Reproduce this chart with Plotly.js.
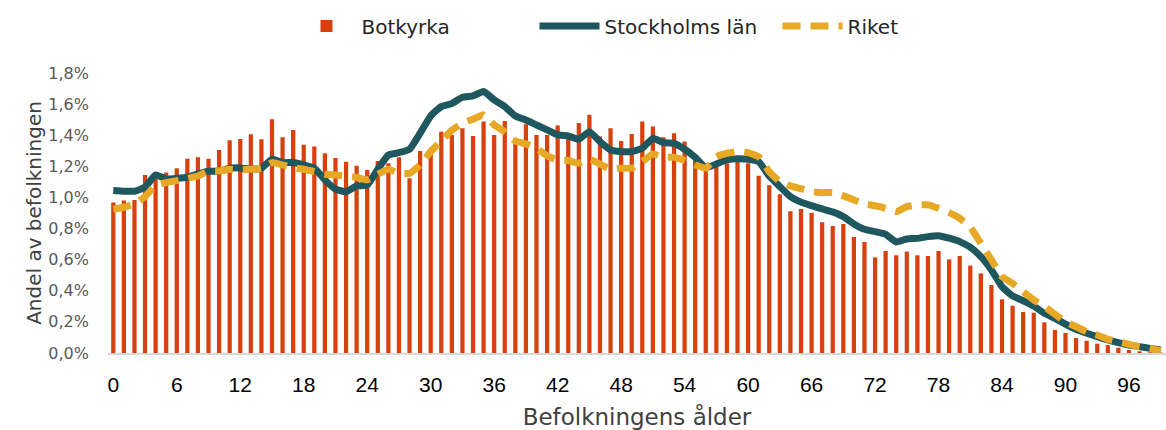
<!DOCTYPE html>
<html>
<head>
<meta charset="utf-8">
<script src="https://cdn.plot.ly/plotly-3.0.1.min.js"></script>
<style>
  html, body { margin: 0; padding: 0; background: #ffffff; }
  #chart { width: 1166px; height: 430px; }
</style>
</head>
<body>
<div id="chart"></div>
<script>
// Ages 0..99
const ages = Array.from({length: 100}, (_, i) => i);

// Share of population (%) per age
const botkyrka = [
  0.967, 0.98, 0.984, 1.145, 1.12, 1.16, 1.188, 1.248, 1.258, 1.248,
  1.305, 1.368, 1.376, 1.406, 1.374, 1.503, 1.387, 1.434, 1.338, 1.327,
  1.284, 1.254, 1.230, 1.203, 1.177, 1.235, 1.22, 1.258, 1.123, 1.299,
  1.30, 1.423, 1.402, 1.445, 1.395, 1.488, 1.402, 1.492, 1.38, 1.47,
  1.402, 1.402, 1.462, 1.38, 1.479, 1.531, 1.391, 1.445, 1.363, 1.408,
  1.488, 1.456, 1.387, 1.413, 1.359, 1.25, 1.177, 1.2, 1.22, 1.23,
  1.22, 1.14, 1.078, 1.02, 0.911, 0.926, 0.902, 0.84, 0.817, 0.83,
  0.746, 0.714, 0.615, 0.656, 0.628, 0.652, 0.628, 0.624, 0.656, 0.602,
  0.624, 0.562, 0.512, 0.437, 0.345, 0.304, 0.264, 0.259, 0.197, 0.148,
  0.129, 0.096, 0.079, 0.06, 0.051, 0.034, 0.019, 0.011, 0.005, 0.003
];

const stockholm = [
  1.044, 1.04, 1.04, 1.066, 1.145, 1.119, 1.123, 1.13, 1.151, 1.168,
  1.168, 1.188, 1.19, 1.183, 1.188, 1.245, 1.224, 1.224, 1.209, 1.188,
  1.113, 1.053, 1.037, 1.074, 1.08, 1.181, 1.273, 1.288, 1.31, 1.413,
  1.524, 1.584, 1.603, 1.644, 1.653, 1.681, 1.627, 1.584, 1.524, 1.498,
  1.466, 1.434, 1.402, 1.395, 1.374, 1.423, 1.359, 1.305, 1.295, 1.295,
  1.316, 1.38, 1.352, 1.348, 1.31, 1.258, 1.192, 1.215, 1.241, 1.248,
  1.245, 1.23, 1.138, 1.07, 1.005, 0.97, 0.947, 0.926, 0.907, 0.877,
  0.83, 0.795, 0.78, 0.763, 0.714, 0.733, 0.737, 0.748, 0.754, 0.738,
  0.716, 0.68, 0.619, 0.534, 0.426, 0.367, 0.336, 0.302, 0.255, 0.223,
  0.186, 0.152, 0.127, 0.105, 0.084, 0.066, 0.051, 0.041, 0.03, 0.019
];

const riket = [
  0.924, 0.937, 0.958, 1.005, 1.08, 1.095, 1.108, 1.123, 1.138, 1.17,
  1.17, 1.181, 1.178, 1.181, 1.188, 1.224, 1.209, 1.192, 1.181, 1.166,
  1.149, 1.145, 1.138, 1.13, 1.113, 1.149, 1.181, 1.155, 1.155, 1.209,
  1.295, 1.363, 1.432, 1.477, 1.503, 1.531, 1.466, 1.423, 1.363, 1.344,
  1.316, 1.267, 1.241, 1.237, 1.22, 1.245, 1.215, 1.181, 1.188, 1.188,
  1.23, 1.28, 1.258, 1.258, 1.237, 1.209, 1.188, 1.262, 1.284, 1.295,
  1.288, 1.262, 1.166, 1.102, 1.074, 1.056, 1.037, 1.031, 1.031, 1.01,
  0.984, 0.958, 0.947, 0.93, 0.909, 0.941, 0.952, 0.952, 0.93, 0.902,
  0.866, 0.81, 0.705, 0.598, 0.491, 0.448, 0.394, 0.341, 0.298, 0.249,
  0.201, 0.169, 0.137, 0.116, 0.088, 0.073, 0.056, 0.041, 0.03, 0.015
];

const xTicks = [0, 6, 12, 18, 24, 30, 36, 42, 48, 54, 60, 66, 72, 78, 84, 90, 96];
const yTicks = [0, 0.2, 0.4, 0.6, 0.8, 1.0, 1.2, 1.4, 1.6, 1.8];
const yTickText = ['0,0%', '0,2%', '0,4%', '0,6%', '0,8%', '1,0%', '1,2%', '1,4%', '1,6%', '1,8%'];

const FONT = 'DejaVu Sans, Noto Sans, sans-serif';

const traces = [
  {
    type: 'bar', name: 'Botkyrka', x: ages, y: botkyrka,
    marker: { color: '#d8400e' }, hoverinfo: 'skip'
  },
  {
    type: 'scatter', mode: 'lines', name: 'Stockholms län', x: ages, y: stockholm,
    line: { color: '#1e575e', width: 7, shape: 'spline', smoothing: 0.4 }, hoverinfo: 'skip'
  },
  {
    type: 'scatter', mode: 'lines', name: 'Riket', x: ages, y: riket,
    line: { color: '#e6a825', width: 7, dash: '18px,10px', shape: 'spline', smoothing: 0.4 }, hoverinfo: 'skip'
  }
];

const layout = {
  width: 1166, height: 430,
  margin: { l: 108, r: 0, t: 73, b: 77, pad: 0 },
  paper_bgcolor: '#ffffff', plot_bgcolor: '#ffffff',
  separators: ', ',
  bargap: 0.6,
  showlegend: true,
  legend: {
    orientation: 'h', xref: 'container', yref: 'container',
    x: 0.25, xanchor: 'left', y: 0.985, yanchor: 'top',
    font: { family: FONT, size: 20, color: '#262626' },
    entrywidth: 168, entrywidthmode: 'pixels',
    itemwidth: 60, tracegroupgap: 0, traceorder: 'normal'
  },
  xaxis: {
    range: [-0.5, 99.5], tickmode: 'array', tickvals: xTicks, ticktext: xTicks.map(String),
    showgrid: false, zeroline: false, showline: true, linecolor: '#d9d9d9', linewidth: 2,
    ticks: '', ticklabelstandoff: 12,
    tickfont: { family: 'Liberation Sans, Arial, sans-serif', size: 21, color: '#000000' },
    title: { text: 'Befolkningens ålder', standoff: 14,
             font: { family: FONT, size: 23, color: '#404040' } },
    automargin: false, fixedrange: true
  },
  yaxis: {
    range: [0, 1.8], tickmode: 'array', tickvals: yTicks, ticktext: yTickText,
    showgrid: false, zeroline: false, showline: false,
    ticks: '', ticklabelstandoff: 18,
    tickfont: { family: FONT, size: 16, color: '#595959' },
    title: { text: 'Andel av befolkningen', standoff: 1,
             font: { family: FONT, size: 20, color: '#404040' } },
    automargin: false, fixedrange: true
  }
};

Plotly.newPlot('chart', traces, layout, { staticPlot: true, displayModeBar: false });
</script>
</body>
</html>
